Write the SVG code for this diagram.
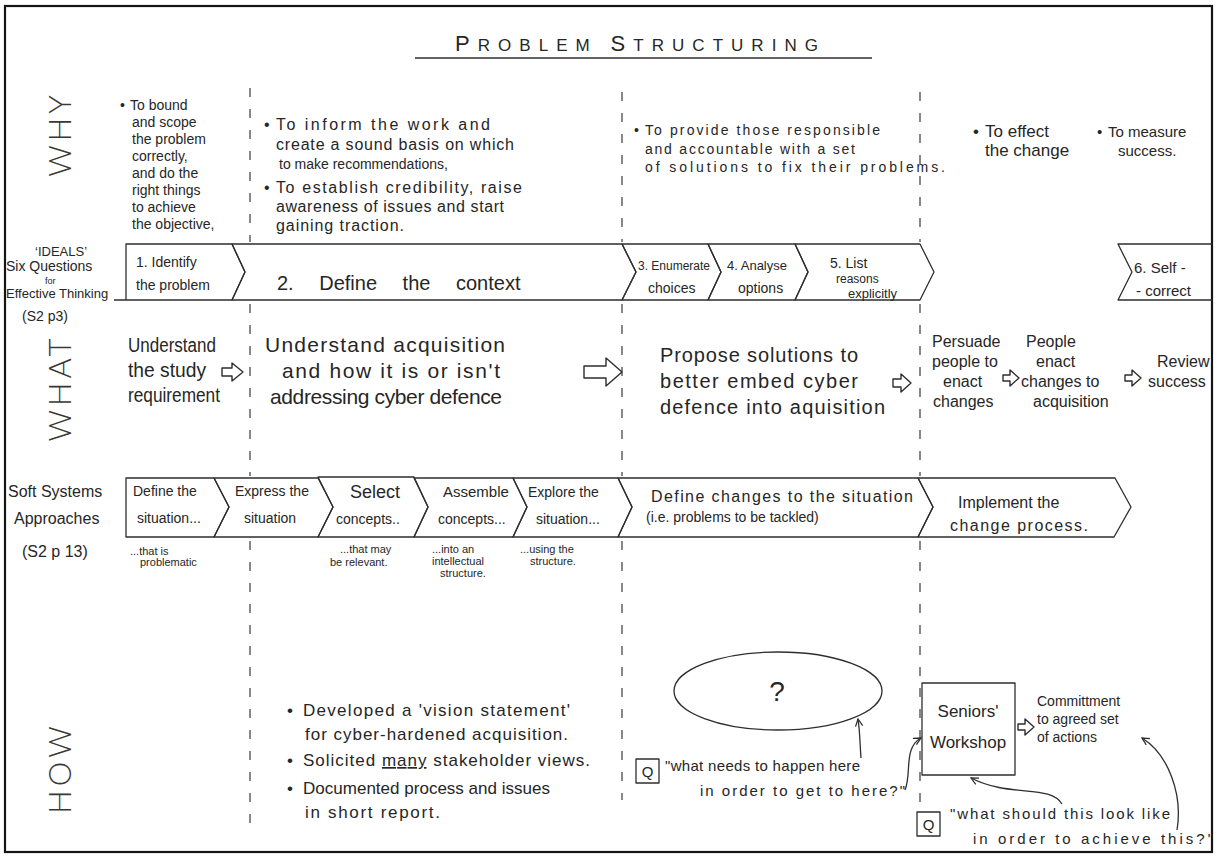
<svg xmlns="http://www.w3.org/2000/svg" width="1217" height="857" viewBox="0 0 1217 857">
  <style>
    .t { font-family: "Liberation Sans", Arial, sans-serif; fill: #262626; }
    .lbl { font-family: "Lato", "Liberation Sans", Arial, sans-serif; font-weight: 300; fill: #383838; font-size: 31px; letter-spacing: 4px; }
    .ln { stroke: #2e2e2e; stroke-width: 1.3; fill: none; stroke-linejoin: round; }
    .dash { stroke: #3a3a3a; stroke-width: 1.2; stroke-dasharray: 9 12; fill: none; }
    .blk { fill: #fff; stroke: #2e2e2e; stroke-width: 1.4; stroke-linejoin: round; }
    .s9 { font-size: 9px; } .s10 { font-size: 10px; } .s11 { font-size: 11px; } .s12 { font-size: 12px; } .s13 { font-size: 13px; }
    .s14 { font-size: 14px; } .s15 { font-size: 15px; } .s16 { font-size: 16px; } .s17 { font-size: 17px; }
    .s18 { font-size: 18px; } .s20 { font-size: 20px; } .s21 { font-size: 21px; }
  </style>
  <defs>
    <marker id="head" viewBox="0 0 10 10" refX="9" refY="5" markerWidth="9" markerHeight="9" orient="auto-start-reverse" markerUnits="userSpaceOnUse">
      <path d="M1,1 L9,5 L1,9" fill="none" stroke="#2e2e2e" stroke-width="1.4"/>
    </marker>
  </defs>

  <rect x="0" y="0" width="1217" height="857" fill="#fff"/>
  <rect x="5" y="6" width="1207" height="846" fill="none" stroke="#151515" stroke-width="2.2"/>

  <!-- title -->
  <g id="title">
    <text class="t" x="455" y="51" textLength="363" lengthAdjust="spacing"><tspan font-size="22">P</tspan><tspan font-size="17">ROBLEM  </tspan><tspan font-size="22">S</tspan><tspan font-size="17">TRUCTURING</tspan></text>
    <line class="ln" x1="415" y1="58" x2="872" y2="58"/>
  </g>

  <!-- row labels -->
  <g id="label-why"><text class="lbl" text-anchor="middle" transform="translate(71,134) rotate(-90)">WHY</text></g>
  <g id="label-what"><text class="lbl" text-anchor="middle" transform="translate(71,388) rotate(-90)">WHAT</text></g>
  <g id="label-how"><text class="lbl" text-anchor="middle" transform="translate(71,768) rotate(-90)">HOW</text></g>

  <!-- column dividers -->
  <g id="dividers">
    <path class="dash" d="M250,88 V242 M250,304 V476 M250,541 V830"/>
    <path class="dash" d="M622,92 V242 M622,304 V476 M622,541 V800"/>
    <path class="dash" d="M920,92 V242 M920,304 V476 M920,541 V806"/>
  </g>

  <!-- WHY texts -->
  <g id="why-1">
    <text class="t s14" x="120" y="110">•</text>
    <text class="t s14" x="130" y="110">To bound</text>
    <text class="t s14" x="132" y="127">and scope</text>
    <text class="t s14" x="132" y="144">the problem</text>
    <text class="t s14" x="132" y="161">correctly,</text>
    <text class="t s14" x="132" y="178">and do the</text>
    <text class="t s14" x="132" y="195">right things</text>
    <text class="t s14" x="132" y="212">to achieve</text>
    <text class="t s14" x="132" y="229">the objective,</text>
  </g>
  <g id="why-2">
    <text class="t s16" x="264" y="130">•</text>
    <text class="t s16" x="276" y="130" textLength="214" lengthAdjust="spacing">To inform the work and</text>
    <text class="t s16" x="276" y="150" textLength="238" lengthAdjust="spacing">create a sound basis on which</text>
    <text class="t s14" x="279" y="169">to make recommendations,</text>
    <text class="t s16" x="264" y="193">•</text>
    <text class="t s16" x="276" y="193" textLength="246" lengthAdjust="spacing">To establish credibility, raise</text>
    <text class="t s16" x="276" y="212" textLength="228" lengthAdjust="spacing">awareness of issues and start</text>
    <text class="t s16" x="276" y="231" textLength="128" lengthAdjust="spacing">gaining traction.</text>
  </g>
  <g id="why-3">
    <text class="t s14" x="634" y="135">•</text>
    <text class="t s14" x="645" y="135" textLength="235" lengthAdjust="spacing">To provide those responsible</text>
    <text class="t s14" x="645" y="154" textLength="210" lengthAdjust="spacing">and accountable with a set</text>
    <text class="t s14" x="645" y="172" textLength="300" lengthAdjust="spacing">of solutions to fix their problems.</text>
  </g>
  <g id="why-4">
    <text class="t s17" x="973" y="137">•</text>
    <text class="t s17" x="985" y="137">To effect</text>
    <text class="t s17" x="985" y="156">the change</text>
    <text class="t s15" x="1097" y="137">•</text>
    <text class="t s15" x="1108" y="137">To measure</text>
    <text class="t s15" x="1118" y="156">success.</text>
  </g>

  <!-- IDEALS row -->
  <g id="ideals-label">
    <text class="t s13" x="35" y="256">‘IDEALS’</text>
    <text class="t s14" x="6" y="271">Six Questions</text>
    <text class="t s9" x="45" y="284">for</text>
    <text class="t s13" x="6" y="298">Effective Thinking</text>
    <text class="t s14" x="22" y="321">(S2 p3)</text>
  </g>
  <g id="ideals-1">
    <path class="ln" d="M114,300 H232 L245,272 L232,244 H126 V300"/>
    <text class="t s14" x="136" y="267">1. Identify</text>
    <text class="t s14" x="136" y="290">the problem</text>
  </g>
  <g id="ideals-2">
    <path class="ln" d="M232,244 H622 L636,272 L622,300 H232 L245,272 Z"/>
    <text class="t s20" x="277" y="290" word-spacing="20">2. Define the context</text>
  </g>
  <g id="ideals-3">
    <path class="ln" d="M622,244 H708 L721,272 L708,300 H622 L636,272 Z"/>
    <text class="t s12" x="638" y="270">3. Enumerate</text>
    <text class="t s14" x="648" y="293">choices</text>
  </g>
  <g id="ideals-4">
    <path class="ln" d="M708,244 H795 L808,272 L795,300 H708 L721,272 Z"/>
    <text class="t s13" x="727" y="270">4. Analyse</text>
    <text class="t s14" x="738" y="293">options</text>
  </g>
  <g id="ideals-5">
    <path class="ln" d="M795,244 H920 L934,272 L920,300 H795 L808,272 Z"/>
    <text class="t s14" x="830" y="268">5. List</text>
    <text class="t s12" x="836" y="283">reasons</text>
    <text class="t s13" x="848" y="298">explicitly</text>
  </g>
  <g id="ideals-6">
    <path class="ln" d="M1212,244 H1118 L1132,272 L1118,300 H1212"/>
    <text class="t s15" x="1134" y="273">6. Self -</text>
    <text class="t s15" x="1136" y="296">- correct</text>
  </g>

  <!-- WHAT texts -->
  <g id="what-1">
    <text class="t s20" x="128" y="352" textLength="88" lengthAdjust="spacingAndGlyphs">Understand</text>
    <text class="t s20" x="128" y="377" textLength="78" lengthAdjust="spacingAndGlyphs">the study</text>
    <text class="t s20" x="128" y="402" textLength="92" lengthAdjust="spacingAndGlyphs">requirement</text>
  </g>
  <g id="what-2">
    <text class="t s21" x="265" y="352" textLength="240" lengthAdjust="spacing">Understand acquisition</text>
    <text class="t s21" x="282" y="378" textLength="218" lengthAdjust="spacing">and how it is or isn't</text>
    <text class="t s21" x="270" y="404" textLength="232" lengthAdjust="spacing">addressing cyber defence</text>
  </g>
  <g id="what-3">
    <text class="t s20" x="660" y="362" textLength="198" lengthAdjust="spacing">Propose solutions to</text>
    <text class="t s20" x="660" y="388" textLength="198" lengthAdjust="spacing">better embed cyber</text>
    <text class="t s20" x="660" y="414" textLength="225" lengthAdjust="spacing">defence into aquisition</text>
  </g>
  <g id="what-4">
    <text class="t s16" x="932" y="347">Persuade</text>
    <text class="t s16" x="932" y="367">people to</text>
    <text class="t s16" x="943" y="387">enact</text>
    <text class="t s16" x="933" y="407">changes</text>
  </g>
  <g id="what-5">
    <text class="t s16" x="1026" y="347">People</text>
    <text class="t s16" x="1036" y="367">enact</text>
    <text class="t s16" x="1021" y="387">changes to</text>
    <text class="t s16" x="1033" y="407">acquisition</text>
  </g>
  <g id="what-6">
    <text class="t s16" x="1157" y="367">Review</text>
    <text class="t s16" x="1148" y="387">success</text>
  </g>

  <!-- Soft Systems row -->
  <g id="ssa-label">
    <text class="t s16" x="8" y="497">Soft Systems</text>
    <text class="t s16" x="14" y="524">Approaches</text>
    <text class="t s16" x="22" y="557">(S2 p 13)</text>
  </g>
  <g id="ssa-1">
    <path class="ln" d="M126,478 H214 L229,507 L214,537 H126 Z"/>
    <text class="t s14" x="133" y="496">Define the</text>
    <text class="t s14" x="137" y="523">situation...</text>
  </g>
  <g id="ssa-2">
    <path class="ln" d="M214,478 H318 L333,507 L318,537 H214 L229,507 Z"/>
    <text class="t s14" x="235" y="496">Express the</text>
    <text class="t s14" x="244" y="523">situation</text>
  </g>
  <g id="ssa-3">
    <path class="ln" d="M318,477 H414 L428,507 L414,537 H318 L333,507 Z"/>
    <text class="t s18" x="350" y="498">Select</text>
    <text class="t s14" x="336" y="524">concepts..</text>
  </g>
  <g id="ssa-4">
    <path class="ln" d="M414,478 H513 L527,507 L513,537 H414 L428,507 Z"/>
    <text class="t s15" x="443" y="497">Assemble</text>
    <text class="t s14" x="438" y="524">concepts...</text>
  </g>
  <g id="ssa-5">
    <path class="ln" d="M513,478 H618 L632,507 L618,537 H513 L527,507 Z"/>
    <text class="t s14" x="528" y="497">Explore the</text>
    <text class="t s14" x="536" y="524">situation...</text>
  </g>
  <g id="ssa-6">
    <path class="ln" d="M618,478 H918 L933,507 L918,537 H618 L632,507 Z"/>
    <text class="t s16" x="651" y="502" textLength="262" lengthAdjust="spacing">Define changes to the situation</text>
    <text class="t s14" x="646" y="522">(i.e. problems to be tackled)</text>
  </g>
  <g id="ssa-7">
    <path class="ln" d="M918,478 H1115 L1131,507 L1114,537 H918 L933,507 Z"/>
    <text class="t s16" x="958" y="508">Implement the</text>
    <text class="t s16" x="950" y="531" textLength="138" lengthAdjust="spacing">change process.</text>
  </g>
  <g id="ssa-notes">
    <text class="t s11" x="130" y="555">...that is</text>
    <text class="t s11" x="140" y="566">problematic</text>
    <text class="t s11" x="340" y="553">...that may</text>
    <text class="t s11" x="330" y="566">be relevant.</text>
    <text class="t s11" x="432" y="553">...into an</text>
    <text class="t s11" x="432" y="565">intellectual</text>
    <text class="t s11" x="440" y="577">structure.</text>
    <text class="t s11" x="520" y="553">...using the</text>
    <text class="t s11" x="530" y="565">structure.</text>
  </g>

  <!-- HOW texts -->
  <g id="how-1">
    <text class="t s17" x="287" y="716">•</text>
    <text class="t s17" x="303" y="716" textLength="267" lengthAdjust="spacing">Developed a 'vision statement'</text>
    <text class="t s17" x="305" y="740" textLength="263" lengthAdjust="spacing">for cyber-hardened acquisition.</text>
    <text class="t s17" x="287" y="766">•</text>
    <text class="t s17" x="303" y="766" textLength="287" lengthAdjust="spacing">Solicited <tspan text-decoration="underline">many</tspan> stakeholder views.</text>
    <text class="t s17" x="287" y="794">•</text>
    <text class="t s17" x="303" y="794" textLength="247" lengthAdjust="spacing">Documented process and issues</text>
    <text class="t s17" x="305" y="818" textLength="135" lengthAdjust="spacing">in short report.</text>
  </g>
  <g id="how-unknown">
    <ellipse class="ln" cx="778" cy="691" rx="104" ry="39"/>
    <text class="t" font-size="28" x="777" y="701" text-anchor="middle">?</text>
  </g>
  <g id="how-q1">
    <rect class="ln" x="636" y="759" width="23" height="24"/>
    <text class="t s15" x="647.5" y="777" text-anchor="middle">Q</text>
    <text class="t s15" x="665" y="771" textLength="195" lengthAdjust="spacing">"what needs to happen here</text>
    <text class="t s15" x="700" y="796" textLength="205" lengthAdjust="spacing">in order to get to here?"</text>
  </g>
  <g id="how-workshop">
    <rect class="ln" x="922" y="683" width="93" height="92"/>
    <text class="t s17" x="968" y="717" text-anchor="middle">Seniors'</text>
    <text class="t s17" x="968" y="748" text-anchor="middle">Workshop</text>
  </g>
  <g id="how-commitment">
    <text class="t s14" x="1037" y="706">Committment</text>
    <text class="t s14" x="1037" y="724">to agreed set</text>
    <text class="t s14" x="1037" y="742">of actions</text>
  </g>
  <g id="how-q2">
    <rect class="ln" x="917" y="812" width="23" height="24"/>
    <text class="t s15" x="928.5" y="830" text-anchor="middle">Q</text>
    <text class="t s15" x="950" y="819" textLength="220" lengthAdjust="spacing">"what should this look like</text>
    <text class="t s15" x="973" y="844" textLength="240" lengthAdjust="spacing">in order to achieve this?"</text>
  </g>

  <!-- connectors -->
  <g id="connectors">
    <path class="blk" d="M222,368 H232 V363 L243,372 L232,381 V376 H222 Z"/>
    <path class="blk" d="M584,366 H606 V358 L622,372 L606,386 V378 H584 Z"/>
    <path class="blk" d="M893,379 H901 V374 L911,383 L901,392 V387 H893 Z"/>
    <path class="blk" d="M1003,375 H1010 V370 L1019,378 L1010,386 V381 H1003 Z"/>
    <path class="blk" d="M1125,375 H1132 V370 L1141,378 L1132,386 V381 H1125 Z"/>
    <path class="blk" d="M1018,724 H1025 V719 L1034,727 L1025,735 V730 H1018 Z"/>
    <path class="ln" marker-end="url(#head)" d="M861,758 C860,746 860,732 858,719"/>
    <path class="ln" marker-end="url(#head)" d="M905,790 C912,774 903,748 921,738"/>
    <path class="ln" marker-end="url(#head)" d="M1062,804 C1050,784 1010,798 971,778"/>
    <path class="ln" marker-end="url(#head)" d="M1177,830 C1183,794 1168,754 1142,738"/>
  </g>
</svg>
